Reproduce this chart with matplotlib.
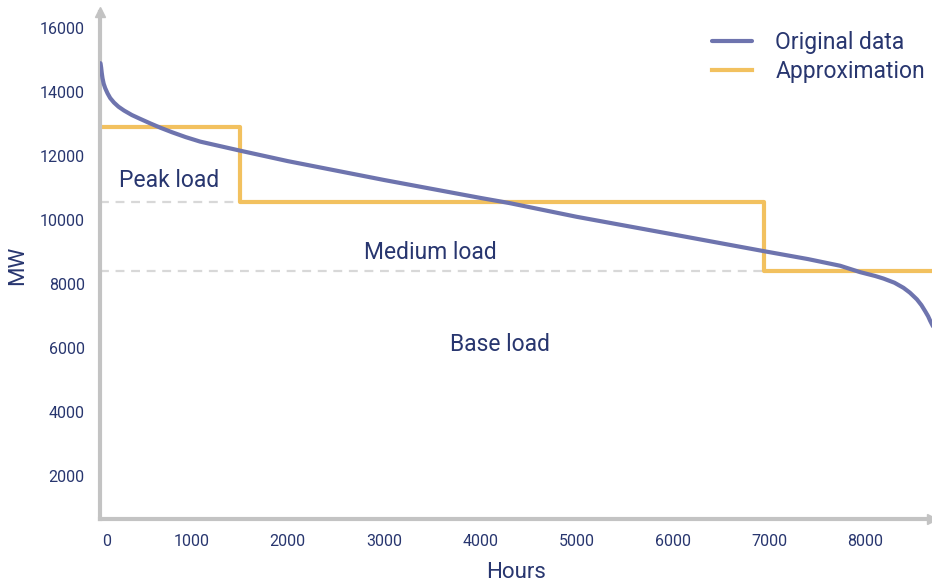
import numpy as np
import matplotlib.pyplot as plt
from matplotlib.transforms import ScaledTranslation

# load duration curve
hours = [55, 62, 68, 76, 88, 104, 128, 156, 195, 242, 300, 381, 460, 571, 680, 800,
         940, 1090, 1500, 2000, 3000, 4000, 4300, 5000, 6000, 6937, 7400, 7736, 7944,
         8100, 8186, 8300, 8394, 8460, 8533, 8580, 8619, 8650, 8671, 8700, 8760]
mw = [14900, 14760, 14600, 14430, 14260, 14120, 13960, 13810, 13670, 13540, 13420,
      13280, 13170, 13020, 12880, 12740, 12590, 12450, 12170, 11840, 11250, 10690,
      10530, 10100, 9550, 9030, 8780, 8570, 8370, 8250, 8170, 8040, 7880, 7730, 7520,
      7340, 7150, 6990, 6850, 6680, 6300]

# step approximation
step_hours = [0, 1500, 6950, 8760]
step_mw = [12900, 10560, 8400, 8400]

xticks = [0, 1000, 2000, 3000, 4000, 5000, 6000, 7000, 8000]
yticks = [2000, 4000, 6000, 8000, 10000, 12000, 14000, 16000]

navy = '#28366f'
purple = '#6e74ae'
yellow = '#f2c15f'
grey = '#c3c3c3'

plt.rcParams['font.family'] = ['Roboto', 'DejaVu Sans']

fig = plt.figure(figsize=(9.32, 5.83), dpi=100)
ax = fig.add_axes([100 / 932, 64 / 583, 832 / 932, 507 / 583])

x0 = 50
ax.set_xlim(x0, 8690)
ax.set_ylim(656, 16500)

ax.plot(hours, mw, color=purple, lw=3, label='Original data', zorder=3,
        solid_capstyle='round', solid_joinstyle='round')
ax.step(step_hours, step_mw, where='post', color=yellow, lw=3,
        label='Approximation', zorder=2)

# dashed separators from the axis to each step
ax.plot([x0, step_hours[1]], [step_mw[1], step_mw[1]], ls=(0, (4, 3)),
        color='#d8d8d8', lw=1.6, zorder=1)
ax.plot([x0, step_hours[2]], [step_mw[2], step_mw[2]], ls=(0, (4, 3)),
        color='#d8d8d8', lw=1.6, zorder=1)

ax.text(768, 11220, 'Peak load', color=navy, fontsize=16.5, ha='center', va='center')
ax.text(3480, 8970, 'Medium load', color=navy, fontsize=16.5, ha='center', va='center')
ax.text(4200, 6100, 'Base load', color=navy, fontsize=16.5, ha='center', va='center')

for s in ['top', 'right']:
    ax.spines[s].set_visible(False)
for s in ['left', 'bottom']:
    ax.spines[s].set_color(grey)
    ax.spines[s].set_linewidth(3)
ax.plot(1, 0, '>', color=grey, ms=7, transform=ax.transAxes, clip_on=False)
ax.plot(0, 1, '^', color=grey, ms=7, transform=ax.transAxes, clip_on=False)

ax.set_xticks([x0] + xticks[1:])
ax.set_xticklabels([str(t) for t in xticks])
ax.set_yticks(yticks)
ax.tick_params(length=0, labelsize=11.5, labelcolor=navy, pad=11)
first = ax.get_xticklabels()[0]
first.set_transform(first.get_transform() + ScaledTranslation(7 / 100, 0, fig.dpi_scale_trans))

ax.set_xlabel('Hours', color=navy, fontsize=16, labelpad=9)
ax.set_ylabel('MW', color=navy, fontsize=16, labelpad=8)

ax.legend(loc='upper right', bbox_to_anchor=(0.997, 0.971), frameon=False, fontsize=16.5,
          labelcolor=navy, handlelength=1.75, handletextpad=1.0, borderaxespad=0,
          borderpad=0.2, labelspacing=0.25)

fig.savefig('out.png', dpi=100)
